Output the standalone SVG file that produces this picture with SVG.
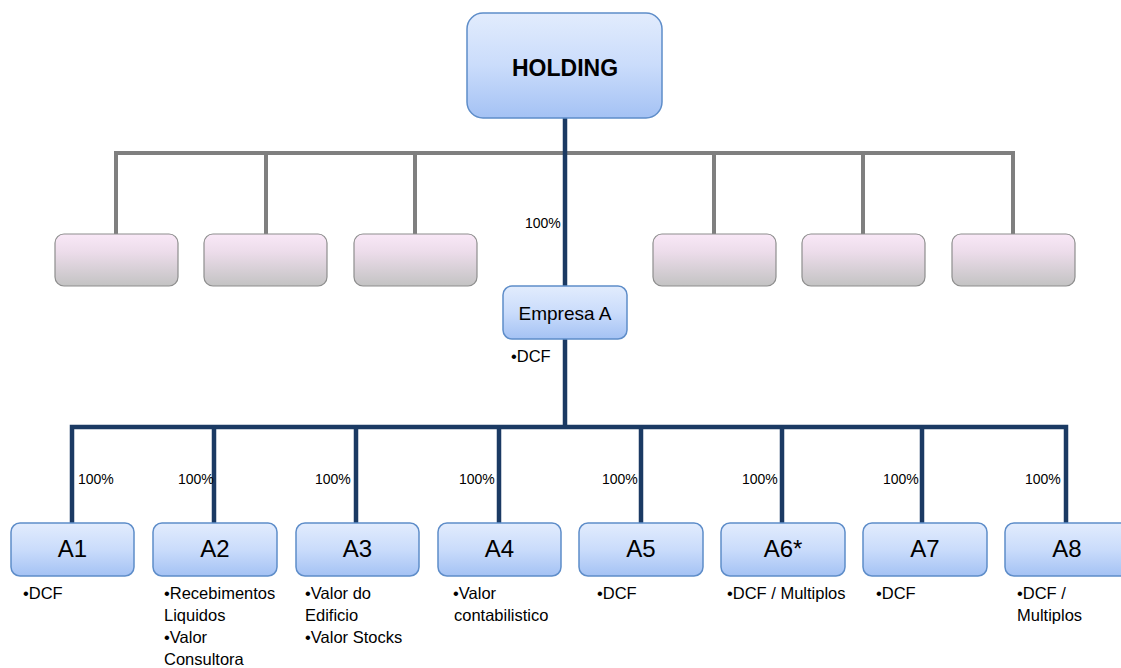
<svg xmlns="http://www.w3.org/2000/svg" width="1121" height="668" viewBox="0 0 1121 668">
<defs>
<linearGradient id="gBlue" x1="0" y1="0" x2="0" y2="1">
<stop offset="0" stop-color="#e2ecfd"/>
<stop offset="0.5" stop-color="#cadcfb"/>
<stop offset="1" stop-color="#a4c2f4"/>
</linearGradient>
<linearGradient id="gPink" x1="0" y1="0" x2="0" y2="1">
<stop offset="0" stop-color="#f9e8f7"/>
<stop offset="0.35" stop-color="#ecdcea"/>
<stop offset="1" stop-color="#c3c3c3"/>
</linearGradient>
<style>
.blue{fill:url(#gBlue);stroke:#5e8dc9;stroke-width:1.5}
.pink{fill:url(#gPink);stroke:#8e8e8e;stroke-width:1.2}
.gray{stroke:#7f7f7f;stroke-width:4;fill:none}
.dark{stroke:#1b3a63;stroke-width:4.5;fill:none}
text{font-family:"Liberation Sans",Arial,sans-serif;fill:#000}
.lbl{font-size:24px;text-anchor:middle}
.pct{font-size:14px}
.note{font-size:16.5px}
</style>
</defs>
<g id="connectors">
<path class="gray" d="M116,234 V153 H1013 V234 M266,153 V234 M415,153 V234 M714,153 V234 M863,153 V234"/>
<path class="dark" d="M565,118 V286 M565,339 V427 M72,523 V427 H1066 V523 M214,427 V523 M356,427 V523 M499,427 V523 M641,427 V523 M782,427 V523 M922,427 V523"/>
</g>
<g id="holding">
<rect class="blue" x="467" y="13" width="195" height="105" rx="16"/>
<text x="565" y="76" font-size="23" font-weight="bold" text-anchor="middle">HOLDING</text>
</g>
<g id="p1"><rect class="pink" x="55" y="234" width="123" height="52" rx="9"/></g>
<g id="p2"><rect class="pink" x="204" y="234" width="123" height="52" rx="9"/></g>
<g id="p3"><rect class="pink" x="354" y="234" width="123" height="52" rx="9"/></g>
<g id="p4"><rect class="pink" x="653" y="234" width="123" height="52" rx="9"/></g>
<g id="p5"><rect class="pink" x="802" y="234" width="123" height="52" rx="9"/></g>
<g id="p6"><rect class="pink" x="952" y="234" width="123" height="52" rx="9"/></g>
<g id="empresaA">
<rect class="blue" x="503" y="286" width="124" height="53" rx="9"/>
<text x="565" y="320" font-size="19" text-anchor="middle">Empresa A</text>
<text class="note" x="511" y="362">•DCF</text>
<text class="pct" x="525" y="228">100%</text>
</g>
<g id="A1">
<rect class="blue" x="11" y="523" width="123" height="53" rx="9"/>
<text class="lbl" x="72.5" y="557">A1</text>
<text class="pct" x="78" y="484">100%</text>
<text class="note" x="23" y="599">•DCF</text>
</g>
<g id="A2">
<rect class="blue" x="153" y="523" width="124" height="53" rx="9"/>
<text class="lbl" x="215" y="557">A2</text>
<text class="pct" x="178" y="484">100%</text>
<text class="note" x="164" y="599">•Recebimentos</text>
<text class="note" x="164" y="621">Liquidos</text>
<text class="note" x="164" y="643">•Valor</text>
<text class="note" x="164" y="665">Consultora</text>
</g>
<g id="A3">
<rect class="blue" x="296" y="523" width="123" height="53" rx="9"/>
<text class="lbl" x="357.5" y="557">A3</text>
<text class="pct" x="315" y="484">100%</text>
<text class="note" x="305" y="599">•Valor do</text>
<text class="note" x="305" y="621">Edificio</text>
<text class="note" x="305" y="643">•Valor Stocks</text>
</g>
<g id="A4">
<rect class="blue" x="438" y="523" width="123" height="53" rx="9"/>
<text class="lbl" x="499.5" y="557">A4</text>
<text class="pct" x="459" y="484">100%</text>
<text class="note" x="453" y="599">•Valor</text>
<text class="note" x="454" y="621">contabilistico</text>
</g>
<g id="A5">
<rect class="blue" x="579" y="523" width="124" height="53" rx="9"/>
<text class="lbl" x="641" y="557">A5</text>
<text class="pct" x="602" y="484">100%</text>
<text class="note" x="597" y="599">•DCF</text>
</g>
<g id="A6">
<rect class="blue" x="721" y="523" width="124" height="53" rx="9"/>
<text class="lbl" x="783" y="557">A6*</text>
<text class="pct" x="742" y="484">100%</text>
<text class="note" x="727" y="599">•DCF / Multiplos</text>
</g>
<g id="A7">
<rect class="blue" x="863" y="523" width="124" height="53" rx="9"/>
<text class="lbl" x="925" y="557">A7</text>
<text class="pct" x="883" y="484">100%</text>
<text class="note" x="876" y="599">•DCF</text>
</g>
<g id="A8">
<rect class="blue" x="1005" y="523" width="124" height="53" rx="9"/>
<text class="lbl" x="1067" y="557">A8</text>
<text class="pct" x="1025" y="484">100%</text>
<text class="note" x="1017" y="599">•DCF /</text>
<text class="note" x="1017" y="621">Multiplos</text>
</g>
</svg>
